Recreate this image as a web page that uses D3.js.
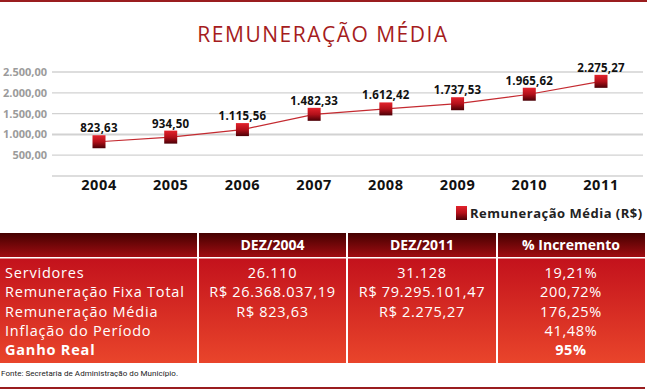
<!DOCTYPE html>
<html>
<head>
<meta charset="utf-8">
<script src="https://cdn.jsdelivr.net/npm/d3@7"></script>
<style>
  body { margin: 0; background: #fff; }
  svg { display: block; font-family: "Open Sans", sans-serif; }
</style>
</head>
<body>
<div class="canvas"></div>
<script>
// chart data
const years = ['2004', '2005', '2006', '2007', '2008', '2009', '2010', '2011'];
const values = [823.63, 934.50, 1115.56, 1482.33, 1612.42, 1737.53, 1965.62, 2275.27];
const yTicks = [0, 500, 1000, 1500, 2000, 2500];
const seriesName = 'Remuneração Média (R$)';

// table data
const tableHeaders = ['', 'DEZ/2004', 'DEZ/2011', '% Incremento'];
const rowLabels = ['Servidores', 'Remuneração Fixa Total', 'Remuneração Média', 'Inflação do Período', 'Ganho Real'];
const col2004 = ['26.110', 'R$ 26.368.037,19', 'R$ 823,63', '', ''];
const col2011 = ['31.128', 'R$ 79.295.101,47', 'R$ 2.275,27', '', ''];
const colIncremento = ['19,21%', '200,72%', '176,25%', '41,48%', '95%'];

const W = 647, H = 389;
const ptBR = d3.formatLocale({ decimal: ',', thousands: '.', grouping: [3], currency: ['R$ ', ''] });
const fmt = ptBR.format(',.2f');

const svg = d3.select('.canvas')
  .append('svg')
    .attr('width', W)
    .attr('height', H);

// gradients
const defs = svg.append('defs');
const grad = (id, stops) => {
  const g = defs.append('linearGradient').attr('id', id)
    .attr('x1', 0).attr('y1', 0).attr('x2', 0).attr('y2', 1);
  stops.forEach(([o, c]) => g.append('stop').attr('offset', o).attr('stop-color', c));
};
grad('marker', [[0, '#e3232c'], [0.5, '#b3101a'], [1, '#4a0006']]);
grad('head', [[0, '#450000'], [1, '#a00d12']]);
grad('body', [[0, '#c3121c'], [1, '#e9452b']]);

// frame lines
svg.append('line').attr('x1', 0).attr('x2', W).attr('y1', 1).attr('y2', 1)
  .attr('stroke', '#9a1d1f').attr('stroke-width', 2);
svg.append('line').attr('x1', 0).attr('x2', 645).attr('y1', 388).attr('y2', 388)
  .attr('stroke', '#9a1d1f').attr('stroke-width', 2);

// title
svg.append('text')
  .attr('x', 323).attr('y', 42)
  .attr('text-anchor', 'middle')
  .attr('font-size', 21)
  .attr('letter-spacing', 1.5)
  .attr('fill', '#a51c20')
  .text('REMUNERAÇÃO MÉDIA');

// scales
const x = d3.scalePoint().domain(years).range([99, 601]);
const y = d3.scaleLinear().domain([0, 2500]).range([176, 72]);

// grid
svg.append('g')
  .selectAll('line')
  .data(yTicks)
  .join('line')
    .attr('x1', 52).attr('x2', 643)
    .attr('y1', d => y(d)).attr('y2', d => y(d))
    .attr('stroke', '#d2d2d2')
    .attr('stroke-width', d => d === 1000 ? 2 : 1.3);

// y labels
svg.append('g')
  .selectAll('text')
  .data(yTicks.filter(d => d > 0))
  .join('text')
    .attr('x', 47).attr('y', d => y(d) + 4)
    .attr('text-anchor', 'end')
    .attr('font-size', 11)
    .attr('font-weight', 700)
    .attr('fill', '#9b9b9b')
    .text(d => fmt(d));

// x labels
svg.append('g')
  .selectAll('text')
  .data(years)
  .join('text')
    .attr('x', d => x(d)).attr('y', 190)
    .attr('text-anchor', 'middle')
    .attr('font-size', 14.5)
    .attr('font-weight', 700)
    .attr('letter-spacing', 0.6)
    .attr('fill', '#111')
    .text(d => d);

// line
const line = d3.line().x((d, i) => x(years[i])).y(d => y(d));
svg.append('path')
  .datum(values)
  .attr('d', line)
  .attr('fill', 'none')
  .attr('stroke', '#c42a30')
  .attr('stroke-width', 1.2);

// markers
const ms = 13;
svg.append('g')
  .selectAll('rect')
  .data(values)
  .join('rect')
    .attr('x', (d, i) => x(years[i]) - ms / 2)
    .attr('y', d => y(d) - ms / 2)
    .attr('width', ms).attr('height', ms)
    .attr('fill', 'url(#marker)');

// value labels
svg.append('g')
  .selectAll('text')
  .data(values)
  .join('text')
    .attr('x', (d, i) => x(years[i]))
    .attr('y', d => y(d) - ms / 2 - 3)
    .attr('text-anchor', 'middle')
    .attr('font-size', 11.5)
    .attr('font-weight', 700)
    .attr('letter-spacing', 0.2)
    .attr('fill', '#111')
    .text(d => fmt(d));

// legend
const legend = svg.append('g').attr('transform', 'translate(456, 206)');
legend.append('rect').attr('width', 11).attr('height', 14).attr('fill', 'url(#marker)');
legend.append('text')
  .attr('x', 14).attr('y', 12)
  .attr('font-size', 13)
  .attr('font-weight', 700)
  .attr('letter-spacing', 0.5)
  .attr('fill', '#222')
  .text(seriesName);

// table
const colEdges = [0, 198, 347, 497, 645];
const colX = d3.scaleOrdinal().domain([0, 1, 2, 3]).range([0, 1, 2, 3].map(i => (colEdges[i] + colEdges[i + 1]) / 2));
const headTop = 233, headBot = 257, bodyBot = 363;

svg.append('rect').attr('x', 0).attr('y', headTop).attr('width', 645).attr('height', headBot - headTop)
  .attr('fill', 'url(#head)');
svg.append('rect').attr('x', 0).attr('y', headBot + 1.5).attr('width', 645).attr('height', bodyBot - headBot - 1.5)
  .attr('fill', 'url(#body)');

svg.append('g')
  .selectAll('line')
  .data(colEdges.slice(1, 4))
  .join('line')
    .attr('x1', d => d).attr('x2', d => d)
    .attr('y1', headTop).attr('y2', bodyBot)
    .attr('stroke', '#fff').attr('stroke-width', 2);

svg.append('g')
  .selectAll('text')
  .data(tableHeaders)
  .join('text')
    .attr('x', (d, i) => colX(i)).attr('y', 250)
    .attr('text-anchor', 'middle')
    .attr('font-size', 14)
    .attr('font-weight', 700)
    .attr('fill', '#fff')
    .text(d => d);

const rowY = d3.scalePoint().domain(d3.range(rowLabels.length)).range([278, 355]);
const bold = i => i === rowLabels.length - 1 ? 700 : 400;

svg.append('g')
  .selectAll('text')
  .data(rowLabels)
  .join('text')
    .attr('x', 5).attr('y', (d, i) => rowY(i))
    .attr('font-size', 14.5)
    .attr('font-weight', (d, i) => bold(i))
    .attr('letter-spacing', 0.8)
    .attr('fill', '#fff')
    .text(d => d);

[col2004, col2011, colIncremento].forEach((col, c) => {
  svg.append('g')
    .selectAll('text')
    .data(col)
    .join('text')
      .attr('x', colX(c + 1)).attr('y', (d, i) => rowY(i))
      .attr('text-anchor', 'middle')
      .attr('font-size', 14.5)
      .attr('font-weight', (d, i) => bold(i))
      .attr('letter-spacing', 0.7)
      .attr('fill', '#fff')
      .text(d => d);
});

// source
svg.append('text')
  .attr('x', 1).attr('y', 376)
  .attr('font-family', '"Liberation Sans Narrow", "Roboto", sans-serif')
  .attr('font-size', 8)
  .attr('fill', '#222')
  .attr('textLength', 177)
  .text('Fonte: Secretaria de Administração do Município.');
</script>
</body>
</html>
